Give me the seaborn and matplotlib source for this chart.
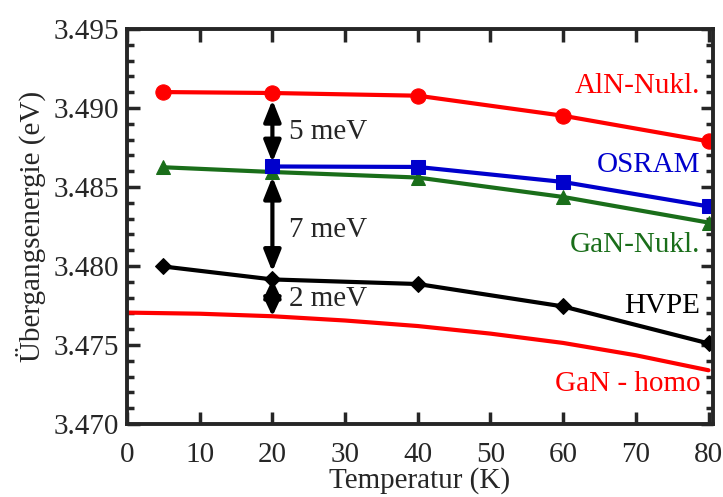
import seaborn as sns
import matplotlib.pyplot as plt
from matplotlib.patches import FancyArrowPatch

# temperatures (K) and transition energies (eV)
temp = [5, 20, 40, 60, 80]
aln_nukl = [3.49101, 3.49095, 3.49078, 3.48951, 3.48789]
temp_osram = [20, 40, 60, 80]
osram = [3.48630, 3.48627, 3.48532, 3.48377]
gan_nukl = [3.48625, 3.48595, 3.48560, 3.48437, 3.48275]
hvpe = [3.47997, 3.47915, 3.47886, 3.47744, 3.47510]
temp_homo = [0, 10, 20, 30, 40, 50, 60, 70, 80]
gan_homo = [3.47705, 3.47698, 3.47682, 3.47655, 3.47620, 3.47572, 3.47513, 3.47435, 3.47340]

sns.set_style("ticks")
plt.rcParams["font.family"] = ["Liberation Serif", "DejaVu Serif"]

fs = 21
fig = plt.figure(figsize=(7.23, 4.97), dpi=100)
ax = fig.add_axes([0.1757, 0.1469, 0.8103, 0.7947])

red = "#ff0000"
blue = "#0000cc"
green = "#1a6e1a"

sns.lineplot(x=temp_homo, y=gan_homo, color=red, lw=3, ax=ax)
sns.lineplot(x=temp, y=hvpe, color="black", lw=3, marker="D", markersize=8.5,
             markeredgecolor="black", ax=ax)
sns.lineplot(x=temp, y=gan_nukl, color=green, lw=3, marker="^", markersize=10,
             markeredgecolor=green, ax=ax)
sns.lineplot(x=temp_osram, y=osram, color=blue, lw=3, marker="s", markersize=9.5,
             markeredgecolor=blue, ax=ax)
sns.lineplot(x=temp, y=aln_nukl, color=red, lw=3, marker="o", markersize=11,
             markeredgecolor=red, ax=ax)

# double arrows for the energy differences at 20 K
gaps = [(aln_nukl[1], osram[0], 5, 3, 1.3, "5 meV", 3.4885),
        (gan_nukl[1], hvpe[1], 3.5, 5.5, 1.3, "7 meV", 3.4823),
        (hvpe[1], gan_homo[2], 0, 0, 1.1, "2 meV", 3.4779)]
for top, bottom, sa, sb, hl, txt, ty in gaps:
    ax.add_patch(FancyArrowPatch((20, top), (20, bottom),
                                 arrowstyle=f"<|-|>,head_length={hl},head_width=0.52",
                                 mutation_scale=10, color="black", lw=3,
                                 shrinkA=sa, shrinkB=sb, zorder=5))
    ax.text(22.3, ty, txt, fontsize=fs, va="center", ha="left")

# series labels
labels = [("AlN-Nukl.", 3.4914, red), ("OSRAM", 3.4864, blue),
          ("GaN-Nukl.", 3.4813, green), ("HVPE", 3.4775, "black"),
          ("GaN - homo", 3.4725, red)]
for txt, y, c in labels:
    ax.text(78.9, y, txt, fontsize=fs, color=c, ha="right", va="center")

ax.set_xlim(0, 80.6)
ax.set_ylim(3.470, 3.495)
ax.set_xticks(range(0, 81, 10))
ax.set_yticks([3.470, 3.475, 3.480, 3.485, 3.490, 3.495])
ax.set_yticklabels(["3.470", "3.475", "3.480", "3.485", "3.490", "3.495"])
ax.set_yticks([3.470 + 0.001 * i for i in range(26)], minor=True)
ax.tick_params(which="both", direction="in", top=True, right=True, width=2.5,
               labelsize=fs)
ax.tick_params(axis="x", pad=13)
ax.tick_params(axis="y", pad=6)
ax.tick_params(which="major", length=9)
ax.tick_params(which="minor", length=5)
for s in ax.spines.values():
    s.set_linewidth(2.8)

ax.set_xlabel("Temperatur (K)", fontsize=fs, labelpad=-1)
ax.set_ylabel("Übergangsenergie (eV)", fontsize=fs, labelpad=5)

fig.savefig("out.png", dpi=100)
plt.close(fig)
